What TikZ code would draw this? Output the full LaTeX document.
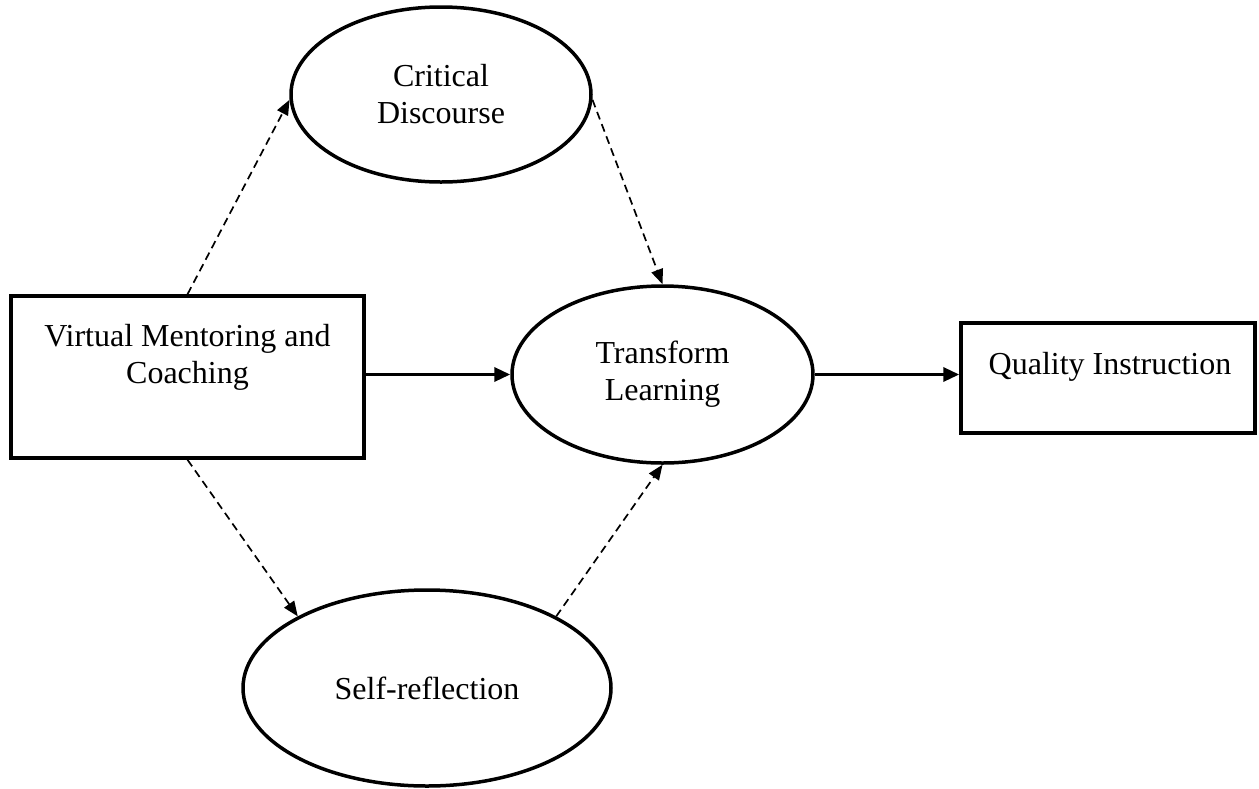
\documentclass[tikz,border=0pt]{standalone}
\usepackage{fontspec}
\setmainfont{Liberation Serif}
\usetikzlibrary{arrows.meta,shapes.geometric,calc}
\begin{document}
\begin{tikzpicture}[x=1pt,y=-1pt,
  box/.style={draw,line width=3.5pt,rectangle,inner sep=0pt},
  oval/.style={draw,line width=3.5pt,ellipse,inner sep=0pt,align=center,font=\fontsize{32}{37}\selectfont},
  lbl/.style={align=center,font=\fontsize{32}{37}\selectfont,inner sep=0pt},
  solidarrow/.style={line width=3.4pt,-{Triangle[length=16pt,width=14pt]}},
  dasharrow/.style={line width=1.7pt,dash pattern=on 8pt off 5pt,-{Triangle[length=15pt,width=12pt]}}]
\useasboundingbox (0,0) rectangle (1259,788);
% boxes
\node[box,minimum width=353pt,minimum height=162pt] (vmc) at (187.5,377) {};
\node[lbl] (vmct) at (187.5,357) {Virtual Mentoring and\\Coaching};
\node[box,minimum width=294pt,minimum height=110pt] (qi) at (1108,378) {};
\node[lbl,anchor=base] (qit) at (1110,374) {Quality Instruction};
% ellipses
\node[oval,minimum width=300pt,minimum height=175pt] (cd) at (441,94.5) {\rule{0pt}{6pt}Critical\\Discourse};
\node[oval,minimum width=301pt,minimum height=177pt] (tl) at (662.5,374.5) {Transform\\Learning};
\node[oval,minimum width=368pt,minimum height=196pt] (sr) at (427,688) {Self-reflection};
% connectors
\draw[dasharrow] (vmc.north) -- (cd.182);
\draw[dasharrow] (cd.-2) -- (tl.north);
\draw[dasharrow] (vmc.south) -- (sr.151);
\draw[dasharrow] (sr.29) -- (tl.south);
\draw[solidarrow] (vmc.east |- tl.west) -- (tl.west);
\draw[solidarrow] (tl.east) -- (qi.west |- tl.east);
\end{tikzpicture}
\end{document}
